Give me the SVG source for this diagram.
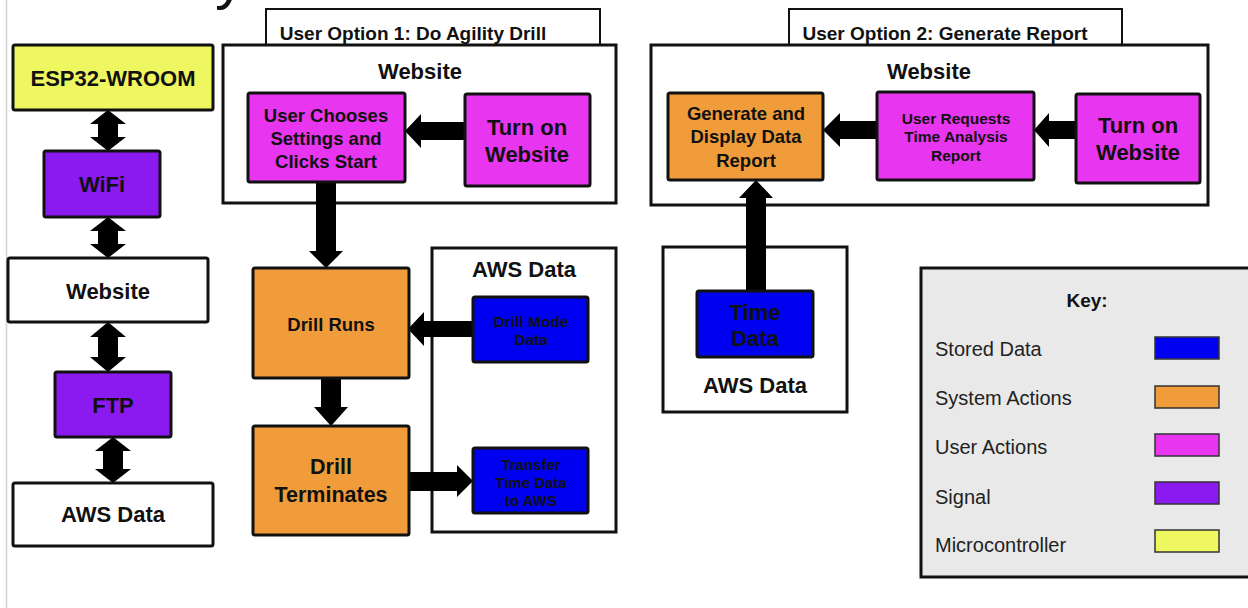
<svg xmlns="http://www.w3.org/2000/svg" width="1248" height="608" viewBox="0 0 1248 608">
<style>
  .t { font-family: "Liberation Sans", Arial, sans-serif; font-weight: bold; fill: #111; text-anchor: middle; dominant-baseline: central; }
  .n { stroke: #111; stroke-width: 3; }
  .cont { fill: #fff; stroke: #111; stroke-width: 3; }
  .tab { fill: #fff; stroke: #111; stroke-width: 2; }
  .yel { fill: #eef75f; }
  .pur { fill: #8a1af0; }
  .mag { fill: #e836f0; }
  .org { fill: #f09c3a; }
  .blu { fill: #0000f0; }
  .wht { fill: #ffffff; }
  .arr { fill: #000; }
  .kl { font-family: "Liberation Sans", Arial, sans-serif; font-size: 20px; fill: #222; dominant-baseline: central; }
  .sw { stroke: #333; stroke-width: 1.5; }
</style>
<rect width="1248" height="608" fill="#fff"/>
<line x1="6.5" y1="0" x2="6.5" y2="608" stroke="#cfcfcf" stroke-width="1.5"/>
<text x="215" y="-2" font-family="Liberation Sans, Arial, sans-serif" font-size="60" fill="#111">y</text>

<!-- containers -->
<g id="opt1-tab"><rect class="tab" x="266" y="9" width="334" height="38"/><text class="t" x="413" y="33" font-size="19">User Option 1: Do Agility Drill</text></g>
<g id="opt1-website"><rect class="cont" x="223" y="45" width="393" height="158"/><text class="t" x="420" y="71" font-size="22">Website</text></g>
<g id="opt1-aws"><rect class="cont" x="432" y="248" width="184" height="284"/><text class="t" x="524" y="269" font-size="22">AWS Data</text></g>
<g id="opt2-tab"><rect class="tab" x="789" y="9" width="333" height="38"/><text class="t" x="945" y="33" font-size="19">User Option 2: Generate Report</text></g>
<g id="opt2-website"><rect class="cont" x="651" y="45" width="557" height="160"/><text class="t" x="929" y="71" font-size="22">Website</text></g>
<g id="opt2-aws"><rect class="cont" x="663" y="247" width="184" height="165"/><text class="t" x="755" y="385" font-size="22">AWS Data</text></g>

<!-- connectors -->
<g id="connectors" class="arr">
  <polygon points="108,110 126,124 118,124 118,137 126,137 108,151 90,137 98,137 98,124 90,124"/>
  <polygon points="108,217 126,231 118,231 118,244 126,244 108,258 90,244 98,244 98,231 90,231"/>
  <polygon points="108,322 126,337 118,337 118,357 126,357 108,372 90,357 98,357 98,337 90,337"/>
  <polygon points="113,437 131,451 123,451 123,469 131,469 113,483 95,469 103,469 103,451 95,451"/>
  <polygon points="405,131 421,114 421,122 465,122 465,140 421,140 421,148"/>
  <polygon points="326,268 309,251 316,251 316,182 336,182 336,251 343,251"/>
  <polygon points="331,426 314,407 321,407 321,378 341,378 341,407 348,407"/>
  <polygon points="408,329 424,312 424,321 473,321 473,337 424,337 424,346"/>
  <polygon points="473,481 457,465 457,472 409,472 409,491 457,491 457,497"/>
  <polygon points="1034,130 1049,113 1049,121 1076,121 1076,139 1049,139 1049,147"/>
  <polygon points="823,130 840,113 840,121 877,121 877,139 840,139 840,147"/>
  <polygon points="756,180 739,198 746,198 746,291 766,291 766,198 773,198"/>
</g>

<!-- left column -->
<g id="esp32"><rect class="n yel" x="13" y="45" width="200" height="65" rx="2"/><text class="t" x="113" y="78" font-size="22">ESP32-WROOM</text></g>
<g id="wifi"><rect class="n pur" x="44" y="151" width="116" height="66" rx="2"/><text class="t" x="102" y="184" font-size="22">WiFi</text></g>
<g id="website-left"><rect class="n wht" x="8" y="258" width="200" height="64" rx="2"/><text class="t" x="108" y="291" font-size="22">Website</text></g>
<g id="ftp"><rect class="n pur" x="55" y="372" width="116" height="65" rx="2"/><text class="t" x="113" y="405" font-size="22">FTP</text></g>
<g id="aws-left"><rect class="n wht" x="13" y="483" width="200" height="63" rx="2"/><text class="t" x="113" y="514" font-size="22">AWS Data</text></g>

<!-- option 1 -->
<g id="user-chooses"><rect class="n mag" x="248" y="93" width="157" height="89" rx="2"/><text class="t" x="326" font-size="18.5"><tspan x="326" y="115">User Chooses</tspan><tspan x="326" y="138">Settings and</tspan><tspan x="326" y="161">Clicks Start</tspan></text></g>
<g id="turn-on-1"><rect class="n mag" x="465" y="94" width="125" height="92" rx="2"/><text class="t" font-size="22"><tspan x="527" y="127">Turn on</tspan><tspan x="527" y="154">Website</tspan></text></g>
<g id="drill-runs"><rect class="n org" x="253" y="268" width="156" height="110" rx="2"/><text class="t" x="331" y="324" font-size="18.5">Drill Runs</text></g>
<g id="drill-terminates"><rect class="n org" x="253" y="426" width="156" height="109" rx="2"/><text class="t" font-size="21.5"><tspan x="331" y="467">Drill</tspan><tspan x="331" y="495">Terminates</tspan></text></g>
<g id="drill-mode-data"><rect class="n blu" x="473" y="297" width="115" height="65" rx="2"/><text class="t" font-size="15.5"><tspan x="531" y="321">Drill Mode</tspan><tspan x="531" y="339">Data</tspan></text></g>
<g id="transfer-time"><rect class="n blu" x="473" y="448" width="115" height="65" rx="2"/><text class="t" font-size="15"><tspan x="531" y="464">Transfer</tspan><tspan x="531" y="482">Time Data</tspan><tspan x="531" y="500">to AWS</tspan></text></g>

<!-- option 2 -->
<g id="generate-report"><rect class="n org" x="668" y="93" width="155" height="87" rx="2"/><text class="t" font-size="18.5"><tspan x="746" y="113">Generate and</tspan><tspan x="746" y="136">Display Data</tspan><tspan x="746" y="160">Report</tspan></text></g>
<g id="user-requests"><rect class="n mag" x="877" y="92" width="157" height="88" rx="2"/><text class="t" font-size="15.5"><tspan x="956" y="118">User Requests</tspan><tspan x="956" y="136">Time Analysis</tspan><tspan x="956" y="155">Report</tspan></text></g>
<g id="turn-on-2"><rect class="n mag" x="1076" y="94" width="124" height="89" rx="2"/><text class="t" font-size="22"><tspan x="1138" y="125">Turn on</tspan><tspan x="1138" y="152">Website</tspan></text></g>
<g id="time-data"><rect class="n blu" x="697" y="291" width="116" height="66" rx="2"/><text class="t" font-size="22"><tspan x="755" y="312">Time</tspan><tspan x="755" y="338">Data</tspan></text></g>

<!-- key -->
<g id="key">
  <rect x="921" y="268" width="340" height="309" fill="#e9e9e9" stroke="#111" stroke-width="3"/>
  <text class="t" x="1087" y="300" font-size="19">Key:</text>
  <text class="kl" x="935" y="349">Stored Data</text>
  <text class="kl" x="935" y="398">System Actions</text>
  <text class="kl" x="935" y="447">User Actions</text>
  <text class="kl" x="935" y="497">Signal</text>
  <text class="kl" x="935" y="545">Microcontroller</text>
  <rect class="sw blu" x="1155" y="337" width="64" height="22"/>
  <rect class="sw org" x="1155" y="386" width="64" height="22"/>
  <rect class="sw mag" x="1155" y="434" width="64" height="22"/>
  <rect class="sw pur" x="1155" y="482" width="64" height="22"/>
  <rect class="sw yel" x="1155" y="530" width="64" height="22"/>
</g>
</svg>
